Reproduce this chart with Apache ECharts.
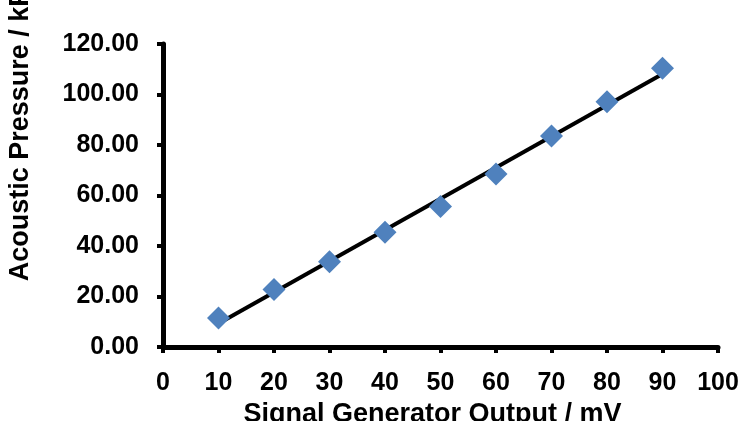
<!DOCTYPE html>
<html>
<head>
<meta charset="utf-8">
<script src="https://cdn.jsdelivr.net/npm/echarts@6/dist/echarts.min.js"></script>
<style>
html,body{margin:0;padding:0;background:#fff;}
#c{width:743px;height:421px;}
</style>
</head>
<body>
<div id="c"></div>
<script>
const xValues = [10, 20, 30, 40, 50, 60, 70, 80, 90];
const yValues = [11.5, 22.8, 33.8, 45.4, 55.6, 68.5, 83.6, 97.1, 110.4];
const xTitle = 'Signal Generator Output / mV';
const yTitle = 'Acoustic Pressure / kPa';

// linear least-squares trendline through the data
const n = xValues.length;
const mx = xValues.reduce((a, b) => a + b, 0) / n;
const my = yValues.reduce((a, b) => a + b, 0) / n;
let sxy = 0, sxx = 0;
for (let i = 0; i < n; i++) { sxy += (xValues[i] - mx) * (yValues[i] - my); sxx += (xValues[i] - mx) ** 2; }
const slope = sxy / sxx, icpt = my - slope * mx;
const x0 = xValues[0], x1 = xValues[n - 1];
const trend = [[x0, icpt + slope * x0], [x1, icpt + slope * x1]];

const font = 'Liberation Sans, Arial, sans-serif';
const chart = echarts.init(document.getElementById('c'), null, {renderer: 'canvas'});
chart.setOption({
  animation: false,
  backgroundColor: '#fff',
  grid: {left: 163, right: 25, top: 44, bottom: 74, containLabel: false, outerBoundsMode: 'none'},
  xAxis: {
    type: 'value', min: 0, max: 100, interval: 10,
    name: xTitle, nameLocation: 'middle', nameGap: 53,
    nameTextStyle: {fontFamily: font, fontWeight: 'bold', fontSize: 27, color: '#000', padding: [0, 16, 0, 0]},
    axisLine: {show: true, onZero: false, lineStyle: {color: '#000', width: 5}},
    axisTick: {show: true, length: 6, lineStyle: {color: '#000', width: 4}},
    axisLabel: {fontFamily: font, fontWeight: 'bold', fontSize: 25, color: '#000', margin: 24},
    splitLine: {show: false}
  },
  yAxis: {
    type: 'value', min: 0, max: 120, interval: 20,
    name: yTitle, nameLocation: 'middle', nameGap: 129, nameRotate: 90,
    nameTextStyle: {fontFamily: font, fontWeight: 'bold', fontSize: 27, color: '#000', padding: [0, 0, 0, 136]},
    axisLine: {show: true, onZero: false, lineStyle: {color: '#000', width: 5}},
    axisTick: {show: true, length: 6, lineStyle: {color: '#000', width: 4}},
    axisLabel: {fontFamily: font, fontWeight: 'bold', fontSize: 25, color: '#000', margin: 24,
      formatter: v => v.toFixed(2)},
    splitLine: {show: false}
  },
  series: [
    {
      type: 'line', data: trend, symbol: 'none', z: 2,
      lineStyle: {color: '#000', width: 4}
    },
    {
      type: 'scatter', data: xValues.map((x, i) => [x, yValues[i]]),
      symbol: 'diamond', symbolSize: 23, z: 3,
      itemStyle: {color: '#4F81BD', opacity: 1}
    }
  ]
});
</script>
</body>
</html>
